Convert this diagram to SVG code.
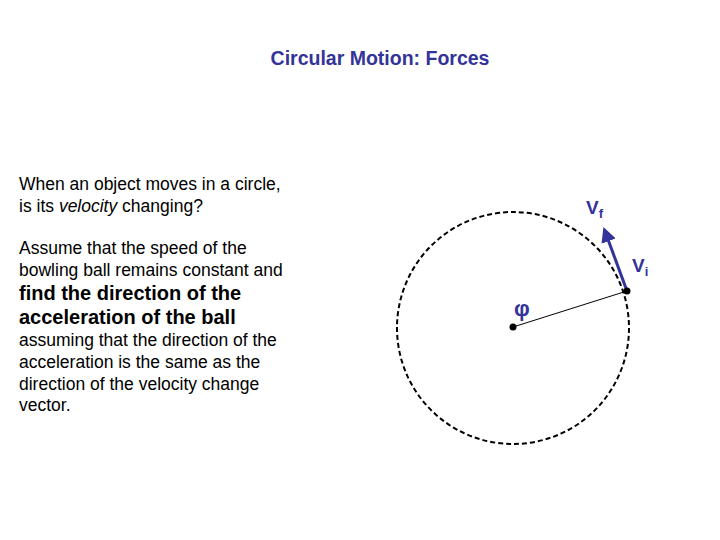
<svg xmlns="http://www.w3.org/2000/svg" width="720" height="540" viewBox="0 0 720 540">
<style>
.t{font-family:"Liberation Sans",Arial,sans-serif;font-size:17.5px;fill:#000}
.b{font-family:"Liberation Sans",Arial,sans-serif;font-size:20px;font-weight:bold;fill:#000}
.bl{font-family:"Liberation Sans",Arial,sans-serif;font-weight:bold;fill:#333399}
</style>
<defs><marker id="ah" markerWidth="5" markerHeight="5" refX="2.5" refY="2.5" orient="auto" markerUnits="strokeWidth"><path d="M0,0 L5,2.5 L0,5 z" fill="#333399"/></marker></defs>
<rect width="720" height="540" fill="#fff"/>
<text class="bl" x="380" y="65" text-anchor="middle" font-size="19.5">Circular Motion: Forces</text>
<g id="text">
<text class="t" x="19" y="190">When an object moves in a circle,</text>
<text class="t" x="19" y="212">is its <tspan font-style="italic">velocity</tspan> changing?</text>
<text class="t" x="19" y="254">Assume that the speed of the</text>
<text class="t" x="19" y="276">bowling ball remains constant and</text>
<text class="b" x="19" y="300">find the direction of the</text>
<text class="b" x="19" y="324">acceleration of the ball</text>
<text class="t" x="19" y="346">assuming that the direction of the</text>
<text class="t" x="19" y="368">acceleration is the same as the</text>
<text class="t" x="19" y="390">direction of the velocity change</text>
<text class="t" x="19" y="411">vector.</text>
</g>
<g id="circle"><circle cx="513" cy="328" r="116" fill="none" stroke="#000" stroke-width="2" stroke-dasharray="5,3"/></g>
<g id="connectors">
<line x1="513" y1="327" x2="627" y2="291" stroke="#000" stroke-width="1"/>
<line x1="627" y1="291" x2="606" y2="234" stroke="#333399" stroke-width="3" marker-end="url(#ah)"/>
</g>
<g id="dots">
<circle cx="513" cy="327" r="3.5" fill="#000"/>
<circle cx="627" cy="291" r="3.5" fill="#000"/>
</g>
<g id="labels">
<text class="bl" x="586" y="214" font-size="19">V<tspan font-size="13" dy="4">f</tspan></text>
<text class="bl" x="632" y="272" font-size="19">V<tspan font-size="13" dy="4">i</tspan></text>
<text class="bl" x="514" y="316" font-size="22">φ</text>
</g>
</svg>
